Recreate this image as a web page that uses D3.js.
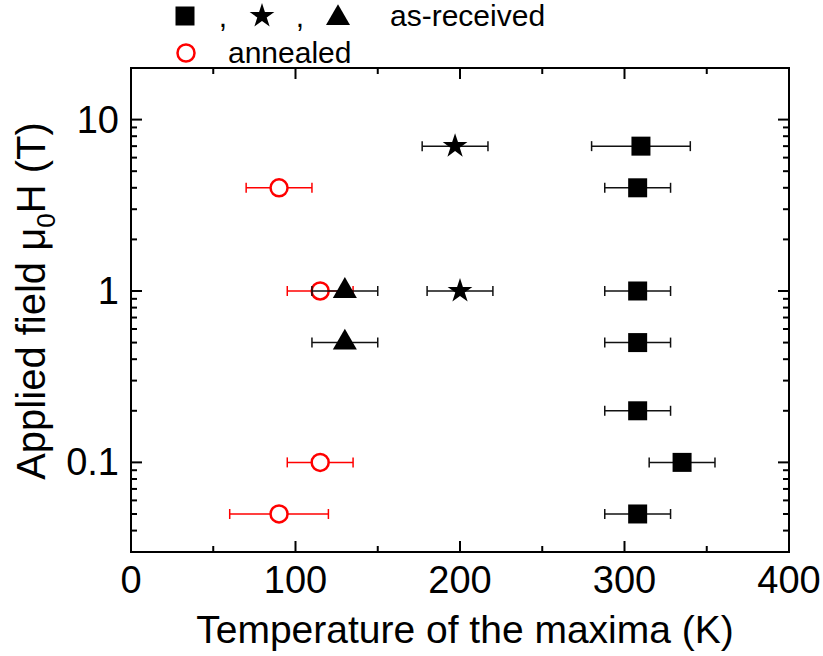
<!DOCTYPE html>
<html>
<head>
<meta charset="utf-8">
<script src="https://cdn.jsdelivr.net/npm/d3@7"></script>
<style>
  body { margin: 0; background: #fff; }
  text { font-family: "Liberation Sans", Arial, sans-serif; fill: #000; }
</style>
</head>
<body>
<div id="chart"></div>
<script>
// as-received: squares, stars, triangles; annealed: open circles
var fieldSquare = [7, 4, 1, 0.5, 0.2, 0.1, 0.05];
var tempSquare  = [310, 308, 308, 308, 308, 335, 308];
var errSquare   = [30, 20, 20, 20, 20, 20, 20];

var fieldStar = [7, 1];
var tempStar  = [197, 200];
var errStar   = [20, 20];

var fieldTri = [1, 0.5];
var tempTri  = [130, 130];
var errTri   = [20, 20];

var fieldCirc = [4, 1, 0.1, 0.05];
var tempCirc  = [90, 115, 115, 90];
var errCirc   = [20, 20, 20, 30];

var xTicks = [0, 100, 200, 300, 400];
var xMinor = [50, 150, 250, 350];
var yTicks = [0.1, 1, 10];
var yTickLabels = ["0.1", "1", "10"];

var W = 823, H = 656;
var pLeft = 131, pRight = 789, pTop = 68, pBottom = 552;

var svg = d3.select("#chart").append("svg")
  .attr("width", W).attr("height", H);

var x = d3.scaleLinear().domain([0, 400]).range([pLeft, pRight]);
var y = d3.scaleLog().domain([0.03, 20]).range([pBottom, pTop]);

function zip(f, t, e){
  return f.map(function(d, i){ return {f: d, t: t[i], e: e[i]}; });
}

// minor log ticks
var yMinor = [];
[0.01, 0.1, 1, 10].forEach(function(dec){
  for (var k = 2; k <= 9; k++){
    var v = dec * k;
    if (v >= 0.03 && v <= 20) yMinor.push(v);
  }
});

var axes = svg.append("g").attr("stroke", "#000").attr("stroke-width", 2);

// ticks inward on all four sides
xTicks.forEach(function(t){
  axes.append("line").attr("x1", x(t)).attr("x2", x(t)).attr("y1", pBottom).attr("y2", pBottom - 11);
  axes.append("line").attr("x1", x(t)).attr("x2", x(t)).attr("y1", pTop).attr("y2", pTop + 11);
});
xMinor.forEach(function(t){
  axes.append("line").attr("x1", x(t)).attr("x2", x(t)).attr("y1", pBottom).attr("y2", pBottom - 6);
  axes.append("line").attr("x1", x(t)).attr("x2", x(t)).attr("y1", pTop).attr("y2", pTop + 6);
});
yTicks.forEach(function(t){
  axes.append("line").attr("x1", pLeft).attr("x2", pLeft + 11).attr("y1", y(t)).attr("y2", y(t));
  axes.append("line").attr("x1", pRight).attr("x2", pRight - 11).attr("y1", y(t)).attr("y2", y(t));
});
yMinor.forEach(function(t){
  axes.append("line").attr("x1", pLeft).attr("x2", pLeft + 6).attr("y1", y(t)).attr("y2", y(t));
  axes.append("line").attr("x1", pRight).attr("x2", pRight - 6).attr("y1", y(t)).attr("y2", y(t));
});

axes.append("rect").attr("x", pLeft).attr("y", pTop)
  .attr("width", pRight - pLeft).attr("height", pBottom - pTop)
  .attr("fill", "none");

// tick labels
svg.append("g").selectAll("text").data(xTicks).enter().append("text")
  .attr("x", function(d){ return x(d); })
  .attr("y", pBottom + 41)
  .attr("text-anchor", "middle")
  .attr("font-size", 38)
  .text(function(d){ return d; });

svg.append("g").selectAll("text").data(yTicks).enter().append("text")
  .attr("x", pLeft - 12)
  .attr("y", function(d){ return y(d) + 13; })
  .attr("text-anchor", "end")
  .attr("font-size", 38)
  .text(function(d, i){ return yTickLabels[i]; });

// axis titles
svg.append("text")
  .attr("x", (pLeft + pRight) / 2 + 5)
  .attr("y", 643)
  .attr("text-anchor", "middle")
  .attr("font-size", 39)
  .text("Temperature of the maxima (K)");

var yt = svg.append("text")
  .attr("transform", "translate(45,301) rotate(-90)")
  .attr("text-anchor", "middle")
  .attr("font-size", 40);
yt.append("tspan").text("Applied field \u03bc");
yt.append("tspan").attr("font-size", 26).attr("dy", 10).text("0");
yt.append("tspan").attr("dy", -10).text("H (T)");

// error bars
function errorBars(data, color){
  var g = svg.append("g").attr("stroke", color).attr("stroke-width", 1.5);
  data.forEach(function(d){
    var yy = y(d.f);
    g.append("line").attr("x1", x(d.t - d.e)).attr("x2", x(d.t + d.e)).attr("y1", yy).attr("y2", yy);
    g.append("line").attr("x1", x(d.t - d.e)).attr("x2", x(d.t - d.e)).attr("y1", yy - 5).attr("y2", yy + 5);
    g.append("line").attr("x1", x(d.t + d.e)).attr("x2", x(d.t + d.e)).attr("y1", yy - 5).attr("y2", yy + 5);
  });
}

var circ = zip(fieldCirc, tempCirc, errCirc);
var squ = zip(fieldSquare, tempSquare, errSquare);
var sta = zip(fieldStar, tempStar, errStar);
var tri = zip(fieldTri, tempTri, errTri);

errorBars(circ, "#ff0000");
svg.append("g").selectAll("circle").data(circ).enter().append("circle")
  .attr("cx", function(d){ return x(d.t); })
  .attr("cy", function(d){ return y(d.f); })
  .attr("r", 8.5)
  .attr("fill", "#fff").attr("stroke", "#ff0000").attr("stroke-width", 2.5);

errorBars(squ, "#111");
errorBars(sta, "#111");
errorBars(tri, "#111");

function symbols(data, type, size){
  svg.append("g").selectAll("path").data(data).enter().append("path")
    .attr("transform", function(d){ return "translate(" + x(d.t) + "," + y(d.f) + ")"; })
    .attr("d", d3.symbol().type(type).size(size))
    .attr("fill", "#000");
}
symbols(squ, d3.symbolSquare, 361);
symbols(sta, d3.symbolStar, 190);
symbols(tri, d3.symbolTriangle, 250);

// legend
var lg = svg.append("g");
lg.append("path").attr("transform", "translate(185,16)")
  .attr("d", d3.symbol().type(d3.symbolSquare).size(361)).attr("fill", "#000");
lg.append("text").attr("x", 223).attr("y", 27).attr("font-size", 30).attr("text-anchor", "middle").text(",");
lg.append("path").attr("transform", "translate(262,16)")
  .attr("d", d3.symbol().type(d3.symbolStar).size(190)).attr("fill", "#000");
lg.append("text").attr("x", 300).attr("y", 27).attr("font-size", 30).attr("text-anchor", "middle").text(",");
lg.append("path").attr("transform", "translate(338,18)")
  .attr("d", d3.symbol().type(d3.symbolTriangle).size(250)).attr("fill", "#000");
lg.append("text").attr("x", 390).attr("y", 26).attr("font-size", 30).text("as-received");

lg.append("circle").attr("cx", 186).attr("cy", 53).attr("r", 8.5)
  .attr("fill", "#fff").attr("stroke", "#ff0000").attr("stroke-width", 2.5);
lg.append("text").attr("x", 228).attr("y", 63).attr("font-size", 30).text("annealed");
</script>
</body>
</html>
